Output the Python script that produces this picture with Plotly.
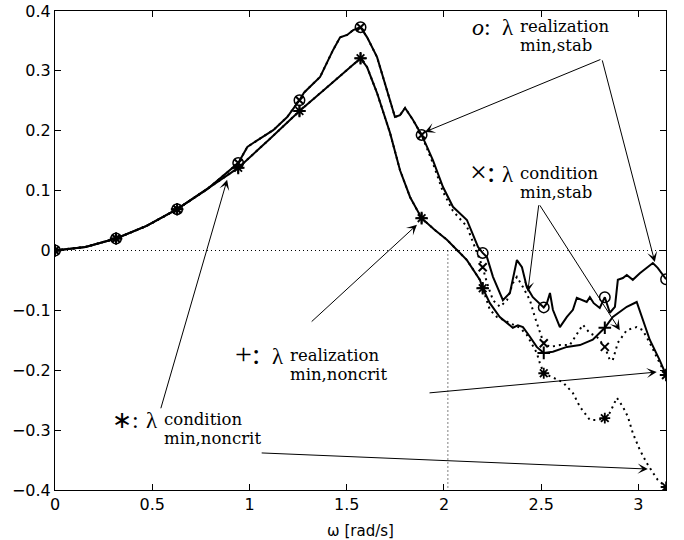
import plotly.graph_objects as go

# ---------------------------------------------------------------
# Data: minimum eigenvalues lambda(omega) over omega in [0, pi]
# ---------------------------------------------------------------

# marker grid, omega = k*pi/10
W_MARK = [0, 0.314, 0.628, 0.942, 1.257, 1.571, 1.885, 2.199, 2.513, 2.827, 3.142]
M_REAL_STAB = [0, 0.020, 0.069, 0.146, 0.251, 0.373, 0.193, -0.004, -0.095, -0.078, -0.048]
M_COND_STAB = [0, 0.020, 0.069, 0.146, 0.251, 0.373, 0.193, -0.028, -0.155, -0.161, -0.208]
M_REAL_NONCRIT = [0, 0.020, 0.069, 0.138, 0.233, 0.321, 0.054, -0.063, -0.171, -0.129, -0.208]
M_COND_NONCRIT = [0, 0.020, 0.069, 0.138, 0.233, 0.321, 0.054, -0.063, -0.205, -0.280, -0.395]

# low-frequency part shared by all four curves
W_LOW = [0, 0.157, 0.314, 0.471, 0.628, 0.785]
V_LOW = [0, 0.006, 0.020, 0.041, 0.069, 0.103]

# "stab" pair, common part up to omega = 1.885
W_STAB = [0.942, 0.989, 1.040, 1.122, 1.194, 1.257, 1.281, 1.363, 1.430, 1.466, 1.502,
          1.533, 1.571, 1.605, 1.656, 1.687, 1.723, 1.748, 1.774, 1.800, 1.841, 1.885]
V_STAB = [0.146, 0.173, 0.184, 0.201, 0.223, 0.251, 0.264, 0.290, 0.335, 0.356, 0.360,
          0.368, 0.373, 0.356, 0.323, 0.290, 0.251, 0.223, 0.226, 0.238, 0.218, 0.193]

# realization, stab (solid)
W_RS = [1.913, 1.943, 1.995, 2.046, 2.118, 2.144, 2.175, 2.199, 2.221, 2.252, 2.303,
        2.339, 2.375, 2.401, 2.426, 2.457, 2.513, 2.529, 2.545, 2.560, 2.596, 2.632,
        2.663, 2.683, 2.714, 2.734, 2.750, 2.770, 2.801, 2.827, 2.853, 2.879, 2.894,
        2.920, 2.940, 2.971, 3.007, 3.043, 3.074, 3.099, 3.142]
V_RS = [0.173, 0.151, 0.106, 0.073, 0.051, 0.029, 0.006, -0.004, -0.011, -0.044, -0.083,
        -0.071, -0.016, -0.028, -0.061, -0.078, -0.095, -0.088, -0.071, -0.099, -0.128, -0.111,
        -0.099, -0.079, -0.083, -0.086, -0.078, -0.088, -0.096, -0.078, -0.104, -0.094, -0.049,
        -0.046, -0.041, -0.049, -0.038, -0.028, -0.021, -0.029, -0.048]

# condition, stab (dotted)
W_CS = [1.913, 1.943, 1.995, 2.046, 2.118, 2.144, 2.175, 2.199, 2.221, 2.252, 2.288,
        2.324, 2.355, 2.375, 2.406, 2.442, 2.467, 2.493, 2.513, 2.545, 2.596, 2.647,
        2.699, 2.714, 2.750, 2.786, 2.827, 2.853, 2.868, 2.894, 2.940, 2.991, 3.022,
        3.058, 3.109, 3.142]
V_CS = [0.170, 0.146, 0.098, 0.066, 0.040, 0.018, -0.008, -0.028, -0.054, -0.083, -0.094,
        -0.083, -0.054, -0.044, -0.061, -0.083, -0.111, -0.138, -0.155, -0.161, -0.158, -0.158,
        -0.133, -0.124, -0.138, -0.144, -0.161, -0.183, -0.183, -0.154, -0.133, -0.128, -0.133,
        -0.154, -0.188, -0.208]

# "noncrit" pair, common part up to omega = 2.199
W_NC = [0.942, 1.100, 1.257, 1.414, 1.571, 1.605, 1.656, 1.723, 1.774, 1.826, 1.885,
        1.950, 2.015, 2.118, 2.185, 2.199]
V_NC = [0.138, 0.185, 0.233, 0.277, 0.321, 0.306, 0.263, 0.196, 0.134, 0.089, 0.054,
        0.035, 0.018, -0.016, -0.049, -0.063]

# realization, noncrit (solid)
W_RN = [2.236, 2.287, 2.354, 2.380, 2.406, 2.442, 2.477, 2.513, 2.560, 2.632, 2.699,
        2.765, 2.827, 2.868, 2.940, 2.991, 3.022, 3.058, 3.109, 3.142]
V_RN = [-0.088, -0.111, -0.129, -0.125, -0.128, -0.144, -0.161, -0.171, -0.169, -0.161, -0.158,
        -0.149, -0.129, -0.111, -0.094, -0.086, -0.116, -0.149, -0.183, -0.208]

# condition, noncrit (dotted)
W_CN = [2.236, 2.272, 2.323, 2.390, 2.426, 2.477, 2.493, 2.513, 2.585, 2.611, 2.663,
        2.699, 2.750, 2.786, 2.827, 2.853, 2.889, 2.920, 2.946, 2.971, 3.007, 3.043,
        3.074, 3.099, 3.142]
V_CN = [-0.099, -0.111, -0.119, -0.129, -0.141, -0.171, -0.188, -0.205, -0.216, -0.220, -0.238,
        -0.261, -0.283, -0.283, -0.280, -0.271, -0.246, -0.261, -0.278, -0.305, -0.333, -0.355,
        -0.371, -0.383, -0.395]

W_CROSS = 2.02          # frequency where the noncrit curve crosses zero
W_MAX = 3.1416
X_TICKS = [0, 0.5, 1, 1.5, 2, 2.5, 3]
Y_TICKS = [-0.4, -0.3, -0.2, -0.1, 0, 0.1, 0.2, 0.3, 0.4]

# ---------------------------------------------------------------
# Figure
# ---------------------------------------------------------------
W, H = 684, 540
ML, MR, MT, MB = 55, 18, 11, 50
PW, PH = W - ML - MR, H - MT - MB

fig = go.Figure()

dotted_ref = dict(color="black", width=1, dash="1px,3px")
fig.add_trace(go.Scatter(x=[0, W_MAX], y=[0, 0], mode="lines", line=dotted_ref))
fig.add_trace(go.Scatter(x=[W_CROSS, W_CROSS], y=[0, -0.4], mode="lines", line=dotted_ref))

solid = dict(color="black", width=2)
dotted = dict(color="black", width=2, dash="2px,4px")

fig.add_trace(go.Scatter(x=W_LOW + W_STAB + W_CS, y=V_LOW + V_STAB + V_CS,
                         mode="lines", line=dotted))
fig.add_trace(go.Scatter(x=W_LOW + W_NC + W_CN, y=V_LOW + V_NC + V_CN,
                         mode="lines", line=dotted))
fig.add_trace(go.Scatter(x=W_LOW + W_STAB + W_RS, y=V_LOW + V_STAB + V_RS,
                         mode="lines", line=solid))
fig.add_trace(go.Scatter(x=W_LOW + W_NC + W_RN, y=V_LOW + V_NC + V_RN,
                         mode="lines", line=solid))

def markers(vals, symbol, size, lw):
    fig.add_trace(go.Scatter(
        x=W_MARK, y=vals, mode="markers",
        marker=dict(symbol=symbol, size=size, color="black",
                    line=dict(color="black", width=lw))))

markers(M_REAL_STAB, "circle-open", 10.5, 1.5)
markers(M_COND_STAB, "x-thin-open", 8, 2)
markers(M_REAL_NONCRIT, "cross-thin-open", 9, 2)
markers(M_COND_NONCRIT, "asterisk-open", 9, 1.8)

# ---------------------------------------------------------------
# Labels with stacked super/subscripts and their arrows
# ---------------------------------------------------------------
SERIF = "Liberation Serif"
IDX_FONT = "DejaVu Serif"
LIFT = -1   # baseline correction for the annotation text box

def paper(x, y):
    return (x - ML) / PW, 1 - (y - MT) / PH

def text_at(x, baseline, text, size, family=SERIF, descent=0.216):
    xp, yp = paper(x, baseline - LIFT + descent * size + 1)
    fig.add_annotation(xref="paper", yref="paper", x=xp, y=yp,
                       xanchor="left", yanchor="bottom", showarrow=False,
                       text=text, font=dict(family=family, size=size, color="black"))

def eig_label(sym, sym_size, x_sym, x_lam, x_idx, sup_base, sup, sub):
    text_at(x_sym, sup_base + 3, sym, sym_size)
    text_at(x_lam, sup_base + 3, "λ", 23)
    text_at(x_idx, sup_base, sup, 16.5, IDX_FONT, 0.236)
    text_at(x_idx, sup_base + 19, sub, 16.5, IDX_FONT, 0.236)

def arrow(tail, tip):
    fig.add_annotation(xref="x", yref="y", axref="x", ayref="y",
                       x=tip[0], y=tip[1], ax=tail[0], ay=tail[1],
                       text="", showarrow=True, arrowhead=3, arrowsize=1.7,
                       arrowwidth=1, arrowcolor="black")

eig_label("<i>o</i>:", 24, 470, 500, 518, 32, "realization", "min,stab")
arrow((2.812, 0.320), (1.902, 0.198))
arrow((2.812, 0.320), (3.084, -0.019))

eig_label("×:", 30, 468, 500, 518, 179, "condition", "min,stab")
arrow((2.488, 0.078), (2.431, -0.069))
arrow((2.488, 0.078), (2.904, -0.133))

eig_label("+:", 30, 233, 270, 288, 361, "realization", "min,noncrit")
arrow((1.312, -0.121), (1.861, 0.043))
arrow((1.918, -0.238), (3.094, -0.203))

eig_label("∗:", 24, 110, 144, 162, 425, "condition", "min,noncrit")
arrow((0.542, -0.266), (0.885, 0.118))
arrow((1.055, -0.338), (3.048, -0.365))

axis_font = dict(family="DejaVu Sans", size=16, color="black")
common_axis = dict(showline=True, linecolor="black", linewidth=1, mirror="ticks",
                   ticks="inside", ticklen=6, tickcolor="black", tickwidth=1,
                   showgrid=False, zeroline=False, tickfont=axis_font,
                   automargin=False)

fig.update_layout(
    width=W, height=H,
    margin=dict(l=ML, r=MR, t=MT, b=MB),
    paper_bgcolor="white", plot_bgcolor="white",
    showlegend=False, hovermode=False,
    xaxis=dict(range=[0, W_MAX], tickvals=X_TICKS,
               title=dict(text="ω [rad/s]", font=dict(family="DejaVu Sans", size=15, color="black"),
                          standoff=13),
               **common_axis),
    yaxis=dict(range=[-0.4, 0.4], tickvals=Y_TICKS, **common_axis),
)

fig.write_html("out.html")
